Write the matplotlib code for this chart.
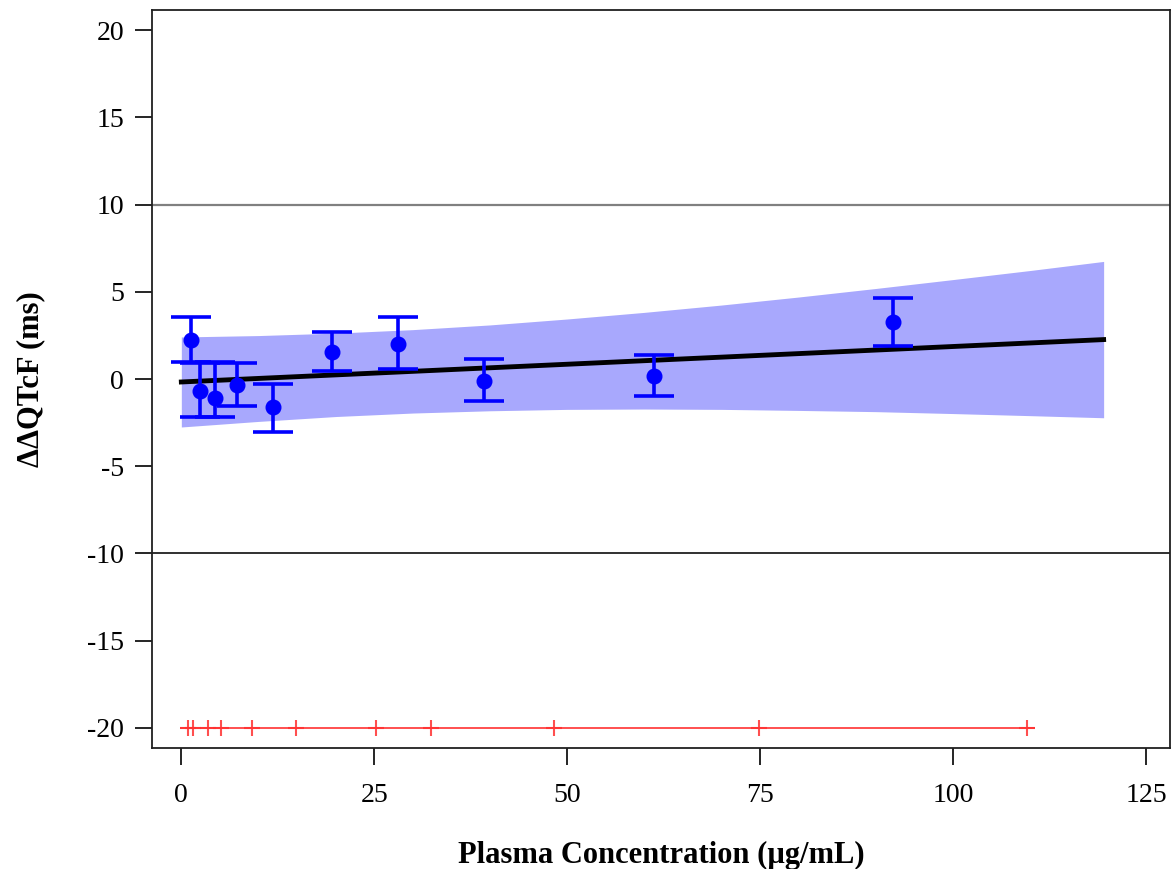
import numpy as np
import matplotlib
matplotlib.use("Agg")
import matplotlib.pyplot as plt

plt.rcParams['font.family'] = ['Liberation Serif', 'DejaVu Serif']
plt.rcParams['axes.unicode_minus'] = False

# binned means with 90% CI
conc = [1.3, 2.4, 4.4, 7.25, 11.9, 19.5, 28.1, 39.2, 61.3, 92.2]
ddqtcf = [2.23, -0.69, -1.11, -0.34, -1.63, 1.53, 2.00, -0.10, 0.17, 3.28]
ci_low = [0.95, -2.16, -2.16, -1.55, -3.06, 0.46, 0.57, -1.24, -0.97, 1.91]
ci_high = [3.55, 0.93, 0.95, 0.90, -0.29, 2.67, 3.53, 1.13, 1.38, 4.66]

# model prediction and confidence band
fit_conc = [0, 119.5]
fit_pred = [-0.17, 2.26]
band_conc = [0, 10, 20, 30, 40, 50, 60, 70, 80, 90, 100, 110, 119.5]
band_low = [-2.75, -2.43, -2.15, -1.95, -1.82, -1.74, -1.72, -1.74, -1.80, -1.87, -1.98, -2.10, -2.22]
band_high = [2.41, 2.49, 2.63, 2.83, 3.10, 3.44, 3.82, 4.24, 4.70, 5.19, 5.70, 6.22, 6.74]

# concentration range and deciles
conc_range = [0.0, 110.5]
deciles = [0.8, 1.5, 3.4, 5.1, 9.1, 14.9, 25.2, 32.3, 48.3, 74.9, 109.6]
rug_y = -20

fig = plt.figure(figsize=(11.72, 8.69), dpi=100)
ax = fig.add_axes([0.1297, 0.1392, 0.8686, 0.8493])

ax.fill_between(band_conc, band_low, band_high, color='#a8a8fd', lw=0, zorder=1)
ax.axhline(10, color='#808080', lw=1.6, zorder=2)
ax.axhline(-10, color='#202020', lw=1.3, zorder=2)
ax.plot(fit_conc, fit_pred, color='black', lw=3.5, zorder=3)

yerr = [np.array(ddqtcf) - np.array(ci_low), np.array(ci_high) - np.array(ddqtcf)]
ax.errorbar(conc, ddqtcf, yerr=yerr, fmt='o', color='#0000ff', ms=10.5,
            elinewidth=2.6, capsize=14.5, capthick=2.6, zorder=4)

ax.plot(conc_range, [rug_y, rug_y], color='#ff3030', lw=1.4, alpha=0.85, zorder=3)
ax.plot(deciles, [rug_y] * len(deciles), ls='none', marker='+', color='#ff3030',
        ms=12, mew=1.5, alpha=0.85, zorder=3)

ax.set_xlim(-3.8, 128.1)
ax.set_ylim(-21.15, 21.15)
ax.set_xticks(np.arange(0, 126, 25))
ax.set_yticks(np.arange(-20, 21, 5))
ax.tick_params(axis='both', labelsize=20, length=12, width=1.2)
ax.tick_params(axis='x', pad=13)
ax.tick_params(axis='y', pad=8)
for s in ax.spines.values():
    s.set_linewidth(1.3)
    s.set_color('#202020')

ax.set_xlabel('Plasma Concentration (µg/mL)', fontsize=22, fontweight='bold', labelpad=24)
ax.set_ylabel('ΔΔQTcF (ms)', fontsize=22, fontweight='bold', labelpad=30)

fig.savefig('out.png', dpi=100)
